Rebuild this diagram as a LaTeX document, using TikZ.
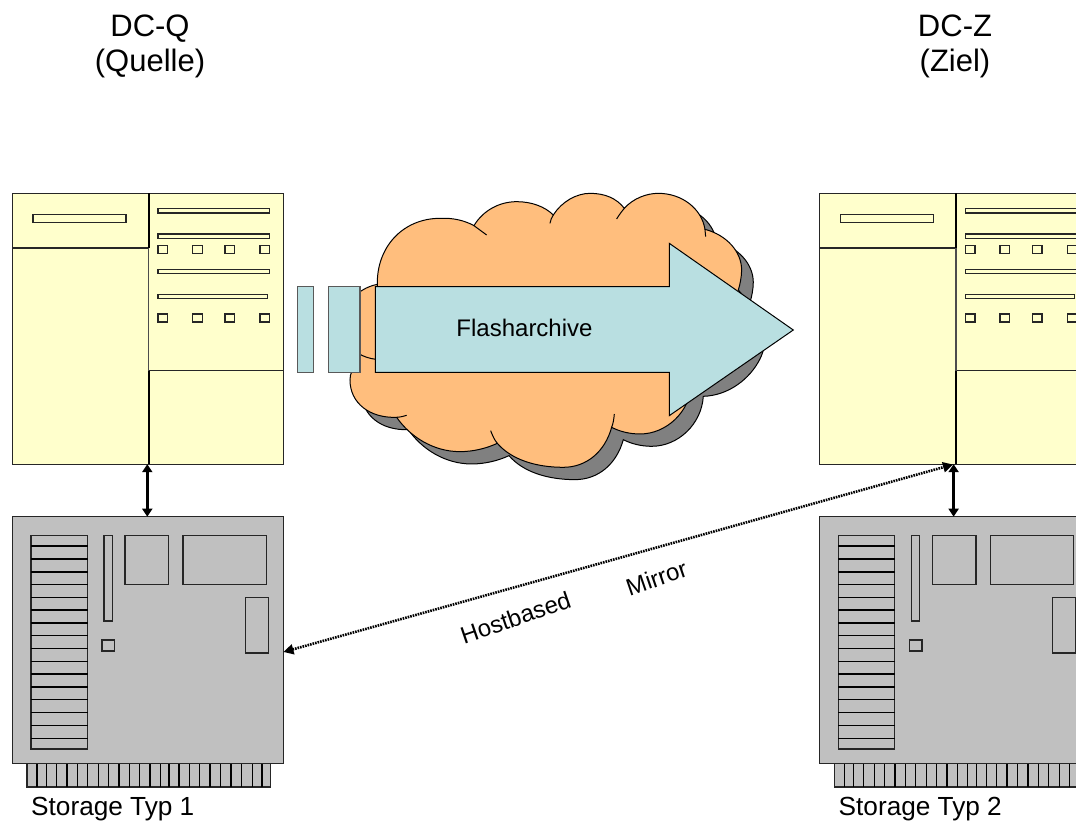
\documentclass[tikz,border=0pt]{standalone}
\usepackage{fontspec}
\setmainfont{Liberation Sans}
\usetikzlibrary{arrows.meta}
\definecolor{srvyellow}{HTML}{FFFFCC}
\definecolor{stgray}{HTML}{C0C0C0}
\definecolor{cloudor}{HTML}{FFBE7D}
\definecolor{arrowblue}{HTML}{B9DFE1}
\definecolor{shadowgray}{HTML}{808080}
\tikzset{
  unitbox/.style={draw=black!85,line width=1.2pt,minimum width=271pt,inner sep=0pt,outer sep=0pt,anchor=north west},
  part/.style={draw=black!85,line width=1.1pt},
  heavy/.style={draw=black,line width=2.2pt},
  label/.style={font=\fontsize{31}{35.5}\selectfont,align=center,inner sep=0pt},
  caption/.style={font=\fontsize{26.2}{30}\selectfont,inner sep=0pt,anchor=west},
  inner text/.style={font=\fontsize{24}{28}\selectfont,inner sep=0pt},
  link/.style={draw=black,line width=2.4pt,{Triangle[length=8pt,width=10pt]}-{Triangle[length=8pt,width=10pt]}},
  mirrorlink/.style={draw=black,line width=2.6pt,dash pattern=on 1.6pt off 1pt,{Triangle[length=10pt,width=10pt]}-{Triangle[length=10pt,width=10pt]}},
  bluebox/.style={fill=arrowblue,draw=black!65,line width=1.2pt}
}
\newcommand{\serverunit}[1]{%
  \node[unitbox,fill=srvyellow,minimum height=271pt] (server#1) at (12.3,193.2) {};
  \draw[part] (12.3,248) -- (148.7,248);
  \draw[part] (148.7,370.7) -- (283.3,370.7);
  \draw[part,draw=black!70] (148.7,248) -- (148.7,370.7);
  \draw[heavy] (148.7,193.2) -- (148.7,248);
  \draw[heavy] (148.7,370.7) -- (148.7,464.2);
  \draw[part] (33,214.3) rectangle (126,222.7);
  \foreach \ya/\yb/\xr in {208.3/213/269.7,234/238.7/269.7,269.3/273.7/269.7,294.7/298.7/267.3}
    \draw[part] (158,\ya) rectangle (\xr,\yb);
  \foreach \yy in {245.7,314}
    \foreach \xx in {158,192.7,225,260}
      \draw[part] (\xx,\yy) rectangle ++(9.7,8);
}
\newcommand{\storageunit}[1]{%
  \draw[part,fill=stgray] (27,763.5) rectangle (270.7,787);
  \foreach \xx in {37,46.3,56.3,67,77.3,87.7,98.3,108.3,119,129.3,139.7,150,160.3,169,179,189.3,199.7,210,220.7,231,241.3,252.3,262}
    \draw[draw=black,line width=1.1pt] (\xx,763.5) -- (\xx,787);
  \node[unitbox,fill=stgray,minimum height=246.8pt] (storage#1) at (12.3,516.7) {};
  \draw[part] (31,535.3) rectangle (87.5,749);
  \foreach \yz in {108,147,186,224,262,300,339,377,415,454,492,531,569,607,646,685}
    \draw[draw=black,line width=1.1pt] (31,510+\yz/3) -- (87.5,510+\yz/3);
  \draw[part] (104,535.3) rectangle (112.5,621);
  \draw[part] (102,640) rectangle (114.7,651);
  \draw[part] (125,535.3) rectangle (168.7,584.7);
  \draw[part] (183,535.3) rectangle (266.3,584.7);
  \draw[part] (245.5,597.3) rectangle (268.5,653);
}
\newcommand{\cloudoutline}{%
  (262,318) .. controls (258,200) and (340,115) .. (450,115)
  .. controls (490,113) and (525,122) .. (552,137)
  .. controls (580,90) and (630,65) .. (680,65)
  .. controls (725,65) and (765,80) .. (790,105)
  .. controls (815,65) and (860,40) .. (900,40)
  .. controls (945,40) and (980,55) .. (1003,85)
  .. controls (1030,55) and (1070,40) .. (1105,40)
  .. controls (1175,40) and (1235,85) .. (1245,148)
  .. controls (1310,165) and (1355,215) .. (1355,270)
  .. controls (1355,290) and (1350,315) .. (1345,330)
  .. controls (1395,385) and (1400,450) .. (1375,500)
  .. controls (1345,560) and (1280,610) .. (1205,612)
  .. controls (1200,695) and (1130,762) .. (1050,762)
  .. controls (1020,762) and (990,755) .. (965,742)
  .. controls (945,815) and (890,862) .. (820,862)
  .. controls (740,862) and (665,840) .. (622,790)
  .. controls (590,805) and (550,815) .. (510,815)
  .. controls (430,815) and (360,770) .. (320,712)
  .. controls (240,715) and (180,670) .. (180,600)
  .. controls (180,590) and (182,582) .. (185,575)
  .. controls (130,520) and (130,340) .. (262,313) -- cycle
}
\begin{document}
\begin{tikzpicture}[x=1pt,y=-1pt]
\clip (0,0) rectangle (1076,825);
\fill[white] (0,0) rectangle (1076,825);

\node[label] (dcq) at (150,46.5) {DC-Q\\(Quelle)};
\node[label] (dcz) at (955,46.5) {DC-Z\\(Ziel)};

\serverunit{Q}
\storageunit{Q}
\begin{scope}[shift={(807.3,0)}]
  \serverunit{Z}
  \storageunit{Z}
\end{scope}

\node[caption] (capq) at (31,809) {Storage Typ 1};
\node[caption] (capz) at (838.5,809) {Storage Typ 2};

% cloud
\begin{scope}[shift={(290,180)},x=0.3333pt,y=-0.3333pt]
  \draw[fill=shadowgray,draw=black,line width=1pt,shift={(35,37)}] \cloudoutline;
  \draw[fill=cloudor,draw=black,line width=1pt] \cloudoutline;
  \draw[black,line width=1pt] (552,137) -- (590,165)
    (790,105) .. controls (785,112) and (782,120) .. (780,130)
    (1003,85) .. controls (995,95) and (987,105) .. (980,117)
    (1245,148) -- (1247,170)
    (965,742) .. controls (970,730) and (972,715) .. (973,702)
    (622,790) .. controls (613,780) and (607,765) .. (602,752)
    (320,712) .. controls (332,711) and (342,709) .. (350,706)
    (205,520) .. controls (220,530) and (240,536) .. (258,538);
  \draw[fill=arrowblue,draw=black,line width=1pt]
    (256,320) -- (1138,320) -- (1138,190) -- (1510,450) -- (1138,707) -- (1138,577) -- (256,577) -- cycle;
\end{scope}
\draw[bluebox] (297.7,286.7) rectangle (313.3,372.3);
\draw[bluebox] (328.7,286.7) rectangle (360,372.3);
\node[inner text] (flash) at (524.5,328) {Flasharchive};

% connectors
\coordinate (mirrorA) at (283.5,652);
\coordinate (mirrorB) at (953,464.5);
\draw[link] ([xshift=-0.5pt]serverQ.south) -- ([xshift=-0.5pt]storageQ.north);
\draw[link] ([xshift=-1.5pt]serverZ.south) -- ([xshift=-1.5pt]storageZ.north);
\draw[mirrorlink] (mirrorA) -- (mirrorB);

\node[inner text,rotate=19] (hb) at (515.5,617.5) {Hostbased};
\node[inner text,rotate=19] (mr) at (656.5,578) {Mirror};
\end{tikzpicture}
\end{document}
